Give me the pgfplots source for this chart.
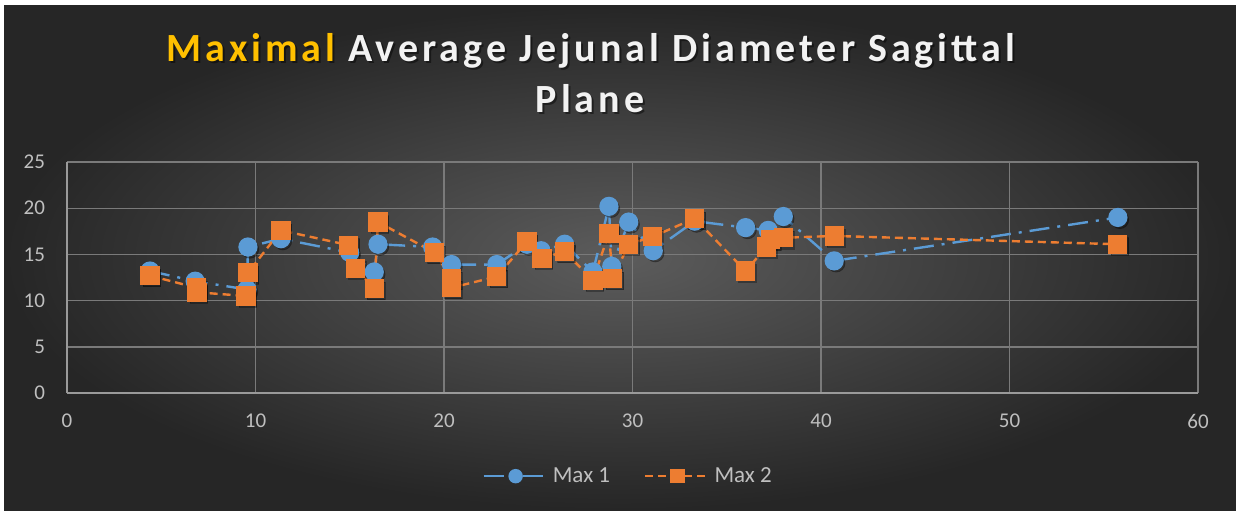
\documentclass[border=0pt]{standalone}
\usepackage{pgfplots}
\pgfplotsset{compat=1.18}
\usepackage{pgfplotstable}
\usepackage{fontspec}
\setmainfont{Carlito}

\definecolor{bgin}{HTML}{5C5C5C}
\definecolor{bgout}{HTML}{262626}
\definecolor{gridc}{HTML}{7A7A7A}
\definecolor{axisc}{HTML}{9A9A9A}
\definecolor{tickc}{HTML}{BFBFBF}
\definecolor{maxone}{HTML}{5B9BD5}
\definecolor{maxtwo}{HTML}{ED7D31}
\definecolor{gold}{HTML}{FFC000}
\definecolor{titlec}{HTML}{F2F2F2}

% Max 1 readings
\pgfplotstableread{
x     y
4.4   13.2
6.8   12.1
9.55  11.2
9.6   15.8
11.35 16.7
15.0  15.2
16.3  13.1
16.5  16.1
19.4  15.8
20.4  13.9
22.8  13.9
24.4  16.1
25.15 15.4
26.4  16.1
27.9  13.1
28.75 20.2
28.9  13.7
29.8  18.5
31.1  15.4
33.3  18.6
36.0  17.9
37.2  17.6
38.0  19.1
40.7  14.3
55.75 19.0
}\maxonetab

% Max 2 readings
\pgfplotstableread{
x     y
4.4   12.7
6.85  11.4
6.9   10.9
9.5   10.5
9.6   13.0
11.35 17.6
14.95 16.0
15.3  13.5
16.3  11.3
16.5  18.5
19.5  15.2
20.4  12.4
20.4  11.4
22.8  12.6
24.4  16.4
25.2  14.6
26.4  15.3
27.9  12.2
28.75 17.3
28.95 12.4
29.8  16.1
31.05 16.9
33.3  18.9
36.0  13.2
37.1  15.8
37.3  16.6
38.0  16.8
40.7  17.0
55.75 16.1
}\maxtwotab

\begin{document}
\begin{tikzpicture}
% frame, background and title, laid out on a half-point grid
\begin{scope}[x=0.5pt,y=0.5pt]
\fill[white] (0,0) rectangle (1236,510);
\shade[inner color=bgin, outer color=bgout] (4,0) rectangle (1236,504);
\begin{scope}[font=\fontsize{20}{24}\selectfont\bfseries]
\node[anchor=base, text=black, opacity=0.45] at (593,446) {\addfontfeatures{LetterSpace=10}Maximal Average Jejunal Diameter Sagittal};
\node[anchor=base] at (591,448) {\addfontfeatures{LetterSpace=10}\textcolor{gold}{Maximal} \textcolor{titlec}{Average Jejunal Diameter Sagittal}};
\node[anchor=base, text=black, opacity=0.45] at (592,396) {\addfontfeatures{LetterSpace=10}Plane};
\node[anchor=base, text=titlec] at (590,398) {\addfontfeatures{LetterSpace=10}Plane};
\end{scope}
\end{scope}

\begin{axis}[
  at={(33.5pt,58.5pt)}, anchor=south west,
  scale only axis, width=565.5pt, height=115.5pt,
  xmin=0, xmax=60, ymin=0, ymax=25,
  xtick={0,10,...,60}, ytick={0,5,...,25},
  grid=major,
  major grid style={color=gridc, line width=0.7pt},
  axis x line*=bottom, axis y line*=left,
  axis line style={-, color=axisc, line width=0.9pt},
  major tick length=0pt,
  /pgf/number format/assume math mode=true,
  ticklabel style={font=\fontsize{10.5}{12}\selectfont, text=tickc},
  xticklabel style={yshift=-7pt},
  yticklabel style={xshift=-7.5pt},
  legend style={at={(0.497,-0.36)}, anchor=center, draw=none, fill=none,
    text=tickc, font=\fontsize{11.5}{13}\selectfont,
    legend columns=2,
    /tikz/every odd column/.append style={column sep=0pt},
    /tikz/every even column/.append style={column sep=15pt}},
  legend image code/.code={
    \draw[mark repeat=2, mark phase=2, #1, mark size=3pt]
      plot coordinates {(0pt,0pt) (16pt,0pt) (32pt,0pt)};
  },
]
% mark shadows
\addplot[forget plot, only marks, mark=*, mark size=4.4pt, draw=none, fill=black, opacity=0.3,
  mark options={xshift=1pt, yshift=-1.2pt}] table {\maxonetab};
\addplot[forget plot, only marks, mark=square*, mark size=4.4pt, draw=none, fill=black, opacity=0.3,
  mark options={xshift=1pt, yshift=-1.2pt}] table {\maxtwotab};

\addplot[color=maxone, line width=1.2pt,
  dash pattern=on 10pt off 4pt on 1.5pt off 4pt,
  mark=*, mark size=4.2pt, mark options={solid, fill=maxone, draw=maxone}]
  table {\maxonetab};
\addlegendentry{Max 1}

\addplot[color=maxtwo, line width=1.2pt,
  dash pattern=on 4pt off 2.5pt,
  mark=square*, mark size=4.2pt, mark options={solid, fill=maxtwo, draw=maxtwo}]
  table {\maxtwotab};
\addlegendentry{Max 2}
\end{axis}
\end{tikzpicture}
\end{document}
